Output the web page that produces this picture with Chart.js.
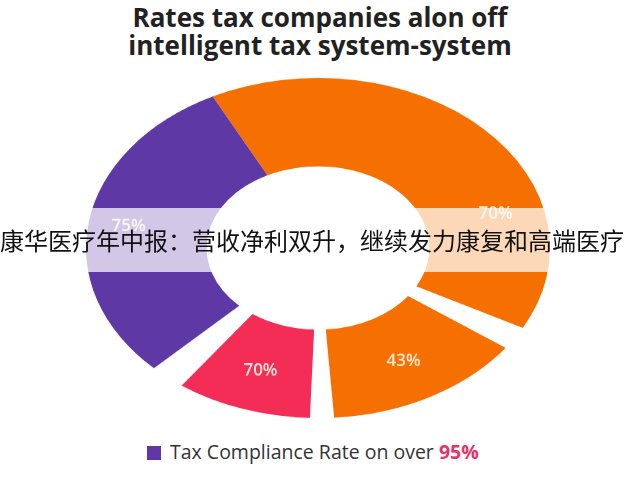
<!DOCTYPE html><html><head><meta charset="utf-8">
<script src="https://cdn.jsdelivr.net/npm/chart.js@4"></script>
<style>
body{margin:0;width:640px;height:480px;background:#fff;position:relative;overflow:hidden;font-family:"Open Sans",sans-serif}
#t{position:absolute;top:3px;left:0;width:640px;text-align:center;font:bold 26px "Open Sans",sans-serif;color:#222;line-height:28px}
#w{position:absolute;left:86px;top:16px;width:464px;height:464px;transform:scaleY(0.733);transform-origin:50% 50%}
#band{position:absolute;left:-8px;top:208px;width:640px;height:64px;font:24px "Noto Sans CJK SC";color:#111;line-height:64px;text-align:center;white-space:nowrap}
#bg{position:absolute;left:0;top:208px;width:640px;height:64px;background:rgba(255,255,255,0.72)}
#lg{position:absolute;top:438px;left:147px;font:19.5px "Open Sans",sans-serif;color:#333}
#lg i{display:inline-block;width:14px;height:14px;background:#5f37a6;vertical-align:-1px;margin-right:9px}
#lg b{color:#e6336b}
</style></head><body>
<div id="t">Rates tax companies alon off<br>intelligent tax system-system</div>
<div id="w"><canvas id="c" width="464" height="464"></canvas></div>
<div id="bg"></div>
<div id="band">康华医疗年中报：营收净利双升，继续发力康复和高端医疗</div>
<div id="lg"><i></i>Tax Compliance Rate on over <b>95%</b></div>
<script>
const categories=["Segment A","","Segment B","","Segment C","","Segment D"];
const sweepValues=[145,8,50,6,34,9,108];
const labelsText=["70%","","43%","","70%","","75%"];
const colors=["#f57000","rgba(0,0,0,0)","#f57000","rgba(0,0,0,0)","#f32d55","rgba(0,0,0,0)","#5e38a5"];
const sy=0.733;
const lbl={id:"lbl",afterDatasetsDraw(ch){const c=ch.ctx;const m=ch.getDatasetMeta(0);
m.data.forEach((a,i)=>{if(!labelsText[i])return;const mid=(a.startAngle+a.endAngle)/2+(i==0?0.52:0);const r=(a.innerRadius+a.outerRadius)/2+(i==0?12:i==6?20:5);
const x=a.x+Math.cos(mid)*r,y=a.y+Math.sin(mid)*r;c.save();c.translate(x,y);c.scale(1,1/sy);
c.fillStyle="rgba(255,245,230,0.92)";c.font="600 17px 'Open Sans'";c.textAlign="center";c.textBaseline="middle";c.fillText(labelsText[i],0,0);c.restore();});}};
new Chart(document.getElementById("c"),{type:"doughnut",data:{labels:categories,datasets:[{data:sweepValues,backgroundColor:colors,borderWidth:0}]},
options:{responsive:false,animation:false,cutout:"48%",rotation:-27,layout:{padding:0},plugins:{legend:{display:false},tooltip:{enabled:false}}},plugins:[lbl]});
</script></body></html>
